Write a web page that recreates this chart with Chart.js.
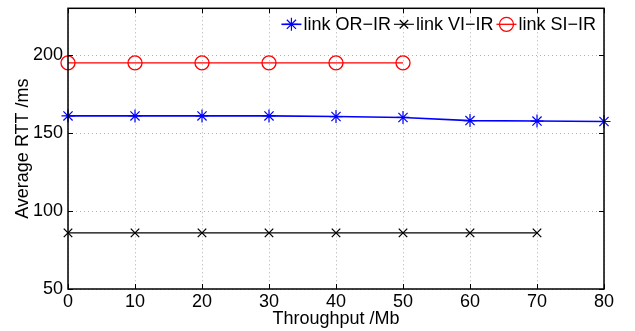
<!DOCTYPE html>
<html>
<head>
<meta charset="utf-8">
<script src="https://cdn.jsdelivr.net/npm/chart.js@4"></script>
<style>
  html, body { margin: 0; padding: 0; background: #fff; }
  #wrap { width: 635px; height: 331px; }
</style>
</head>
<body>
<div id="wrap"><canvas id="chart" width="635" height="331"></canvas></div>
<script>
const throughput = [0, 10, 20, 30, 40, 50, 60, 70, 80];
const orIr = [161, 161, 161, 161, 160.6, 160, 158, 157.7, 157.4];
const viIr = [86, 86, 86, 86, 86, 86, 86, 86];
const siIr = [195, 195, 195, 195, 195, 195];
const yTicks = [50, 100, 150, 200];

const FONT = "'Liberation Sans', Arial, sans-serif";

const pts = vals => vals.map((v, i) => ({ x: throughput[i], y: v }));

// MATLAB-style box with inward ticks, plus the legend inside the axes
const boxPlugin = {
  id: "box",
  afterDraw(chart) {
    const { ctx, chartArea: a, scales } = chart;
    ctx.save();
    ctx.strokeStyle = "#000";
    ctx.lineWidth = 1.5;
    ctx.strokeRect(a.left, a.top, a.right - a.left, a.bottom - a.top);
    ctx.lineWidth = 1;
    ctx.beginPath();
    scales.x.ticks.forEach(t => {
      const px = Math.round(scales.x.getPixelForValue(t.value)) + 0.5;
      ctx.moveTo(px, a.bottom); ctx.lineTo(px, a.bottom - 5);
      ctx.moveTo(px, a.top); ctx.lineTo(px, a.top + 5);
    });
    scales.y.ticks.forEach(t => {
      const py = Math.round(scales.y.getPixelForValue(t.value)) + 0.5;
      ctx.moveTo(a.left, py); ctx.lineTo(a.left + 5, py);
      ctx.moveTo(a.right, py); ctx.lineTo(a.right - 5, py);
    });
    ctx.stroke();

    // legend
    ctx.font = "18px " + FONT;
    ctx.textBaseline = "middle";
    const sets = chart.data.datasets;
    const lineLen = 20;
    let total = 0;
    sets.forEach(d => { total += lineLen + 2 + ctx.measureText(d.label).width + 3; });
    let x = a.right - 5 - total;
    const y = a.top + 16;
    sets.forEach(d => {
      ctx.strokeStyle = d.borderColor;
      ctx.fillStyle = d.backgroundColor;
      ctx.lineWidth = d.borderWidth;
      ctx.beginPath();
      ctx.moveTo(x, y); ctx.lineTo(x + lineLen, y);
      ctx.stroke();
      ctx.lineWidth = d.pointBorderWidth;
      Chart.helpers.drawPoint(ctx, {
        pointStyle: d.pointStyle, radius: d.pointRadius, rotation: 0,
        borderWidth: d.pointBorderWidth
      }, x + lineLen / 2, y);
      ctx.fillStyle = "#000";
      ctx.fillText(d.label, x + lineLen + 2, y + 1);
      x += lineLen + 2 + ctx.measureText(d.label).width + 3;
    });
    ctx.restore();
  }
};

new Chart(document.getElementById("chart"), {
  type: "line",
  data: {
    datasets: [
      {
        label: "link OR\u2212IR", data: pts(orIr),
        borderColor: "#0000ff", backgroundColor: "#0000ff", borderWidth: 1.6,
        pointStyle: "star", pointRadius: 6.5, pointBorderWidth: 1.2, clip: false
      },
      {
        label: "link VI\u2212IR", data: pts(viIr),
        borderColor: "#000000", backgroundColor: "#000000", borderWidth: 1.1,
        pointStyle: "crossRot", pointRadius: 6, pointBorderWidth: 1.3, clip: false
      },
      {
        label: "link SI\u2212IR", data: pts(siIr),
        borderColor: "#ff0000", backgroundColor: "rgba(0,0,0,0)", borderWidth: 1.3,
        pointStyle: "circle", pointRadius: 7, pointBorderWidth: 1.3, clip: false
      }
    ]
  },
  options: {
    responsive: false,
    animation: false,
    layout: { padding: { top: 7, right: 31, left: 0, bottom: 0 } },
    plugins: { legend: { display: false }, tooltip: { enabled: false } },
    elements: { line: { tension: 0 } },
    scales: {
      x: {
        type: "linear", min: 0, max: 80,
        ticks: { stepSize: 10, color: "#000", font: { family: FONT, size: 18 }, padding: 2, maxRotation: 0 },
        grid: { color: "#b0b0b0", lineWidth: 1, drawTicks: false },
        border: { display: false, dash: [1, 3] },
        title: { display: true, text: "Throughput /Mb", color: "#000",
                 font: { family: FONT, size: 18, lineHeight: 1 }, padding: { top: 0, bottom: 3 } },
        afterFit(s) { s.height = 42; s.paddingLeft = 0; s.paddingRight = 0; }
      },
      y: {
        min: 50, max: 230,
        afterBuildTicks(s) { s.ticks = yTicks.map(v => ({ value: v })); },
        ticks: { color: "#000", font: { family: FONT, size: 18 }, padding: 5 },
        grid: { color: "#b0b0b0", lineWidth: 1, drawTicks: false },
        border: { display: false, dash: [1, 3] },
        title: { display: true, text: "Average RTT /ms", color: "#000",
                 font: { family: FONT, size: 18, lineHeight: 1 }, padding: { top: 14, bottom: 0 } },
        afterFit(s) { s.width = 68; s.paddingTop = 0; s.paddingBottom = 0; }
      }
    }
  },
  plugins: [boxPlugin]
});
</script>
</body>
</html>
